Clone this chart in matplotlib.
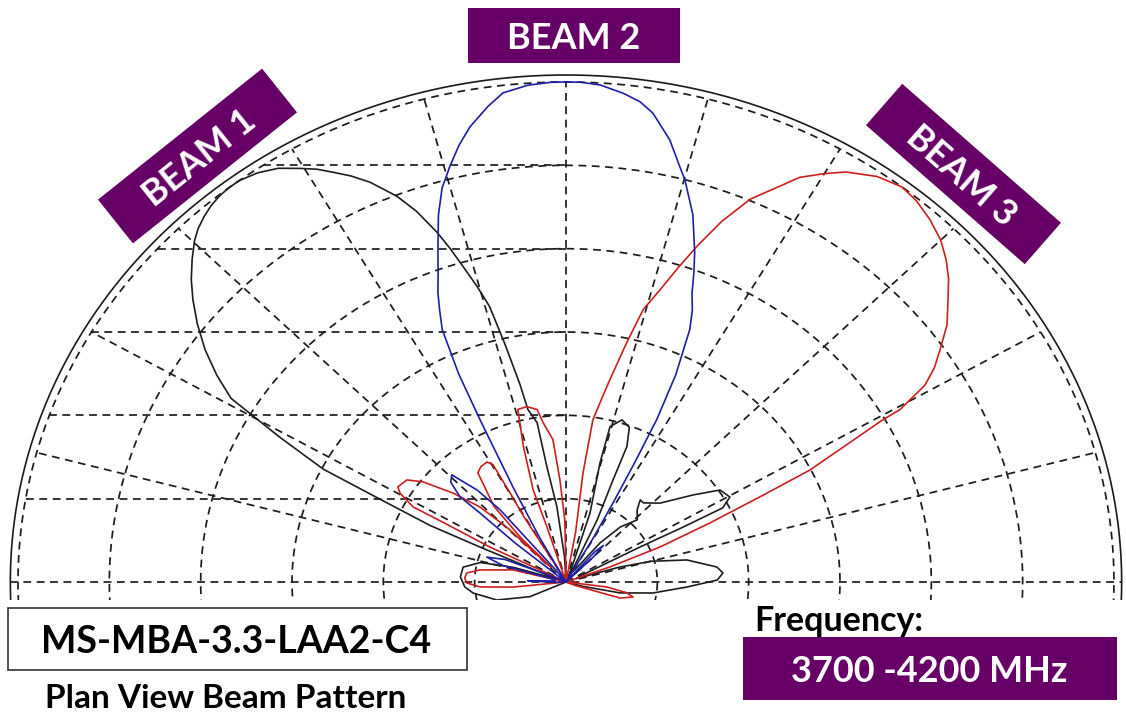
import numpy as np
import matplotlib
matplotlib.use("Agg")
import matplotlib.pyplot as plt
from matplotlib.patches import Rectangle

# ---- beam patterns: angle (deg), normalised amplitude (1 = outer ring)
beam1_deg = [-22, -16, -12.5, -7.9, -2.6, 0.8, 3.6, 6.2, 11.3, 15, 17, 20,
             25, 27.4, 27.2, 27.4, 29.6, 33.2, 36.9, 42.6, 48.3, 50.5, 48, 43.7, 48, 51.5, 56,
             63, 65.4, 67.2, 67.7, 69.5, 72.5, 75.5, 75.4, 72.4, 70,
             90, 93, 96.3, 98.6, 99.4, 101.4, 102, 103.2, 104.2, 105.4, 106.6, 107.6, 108.6,
             110.2, 111.8, 114.1, 115.8, 117.4, 118.8, 120.3, 122.4, 124.5, 126.6, 128,
             129.3, 130.7, 132.1, 133.5, 134.8, 136.6, 138.5, 140.3, 142.5, 144.8, 147, 149, 151,
             153, 154, 155.5, 156, 157, 159,
             161, 163, 166, 171, 177, 183, 187.4, 196, 204, 210]
beam1_amp = [0.0, 0.03, 0.101, 0.16, 0.221, 0.276, 0.287, 0.277, 0.225, 0.16, 0.10, 0.02,
             0.03, 0.152, 0.24, 0.322, 0.344, 0.336, 0.29, 0.233, 0.212, 0.213, 0.194, 0.18, 0.148, 0.10, 0.03,
             0.02, 0.137, 0.222, 0.293, 0.33, 0.34, 0.321, 0.246, 0.145, 0.03,
             0.0, 0.05, 0.151, 0.233, 0.323, 0.352, 0.404, 0.49, 0.568, 0.615, 0.659, 0.70, 0.738,
             0.79, 0.831, 0.876, 0.902, 0.923, 0.942, 0.958, 0.98, 0.993, 1.0, 1.0,
             0.998, 0.993, 0.985, 0.975, 0.962, 0.939, 0.913, 0.885, 0.848, 0.806, 0.76, 0.713, 0.597,
             0.497, 0.377, 0.272, 0.172, 0.06, 0.0,
             0.02, 0.10, 0.161, 0.19, 0.193, 0.185, 0.171, 0.131, 0.072, 0.0]

beam2_deg = [-20, 40, 44, 45, 47, 49, 51,
             59, 60.5, 61.5, 62.3, 63, 64.2, 65.9, 67, 68.3, 69.3, 70.4, 72.5, 74.9, 76, 77.9,
             80.4, 82, 83.9, 86.4, 88.5, 90, 91.5, 94, 96.7, 98.5, 100.9, 102.6, 104.3, 106,
             107.6, 109.5, 110.7, 112, 113, 114.1, 115.2, 115.8, 117, 118.5, 120,
             128, 129.8, 131.4, 134.2, 136.5, 138.6, 138.7, 140, 141,
             155, 158, 161, 164, 167, 174, 178, 182, 210]
beam2_amp = [0.0, 0.0, 0.0, 0.07, 0.10, 0.08, 0.0,
             0.0, 0.10, 0.18, 0.27, 0.365, 0.46, 0.553, 0.59, 0.622, 0.66, 0.70, 0.77, 0.833, 0.857, 0.904,
             0.951, 0.97, 0.983, 0.996, 1.0, 1.0, 1.0, 0.996, 0.985, 0.962, 0.927, 0.895, 0.858, 0.82,
             0.77, 0.70, 0.66, 0.624, 0.59, 0.553, 0.46, 0.361, 0.213, 0.10, 0.0,
             0.03, 0.188, 0.245, 0.299, 0.29, 0.258, 0.209, 0.12, 0.0,
             0.02, 0.12, 0.153, 0.12, 0.02, 0.02, 0.07, 0.02, 0.0]

beam3_deg = [-25, -22, -18, -13.8, -11, -7.6, -4,
             19, 20.6, 22.2, 24.2, 25.7, 26.7, 28.3, 29.3, 29.5, 31, 32.5, 34.2, 36.5, 39, 41,
             42.9, 45, 47.5, 50, 52.2, 55, 58.1, 60, 62.2, 64, 66.3, 68.5, 70.4, 72, 73.6, 75.5,
             77, 78.8, 80, 81.4, 81.9, 80, 84,
             90, 91, 93.1, 94.8, 97.5, 98.7, 101.5, 104.3, 106, 108, 107.5, 109,
             118, 120.5, 119.8, 119.6, 121, 124, 126.4, 131, 133, 132.5,
             134, 134.5, 136.3, 139.2, 142.5, 144.9, 148.2, 149.6, 151.7, 152, 153.3, 153, 155,
             160, 166, 171.3, 174.3, 177.5, 180.6, 183.6, 186, 190, 210]
beam3_amp = [0.0, 0.02, 0.104, 0.126, 0.113, 0.075, 0.0,
             0.0, 0.086, 0.185, 0.288, 0.393, 0.498, 0.588, 0.663, 0.70, 0.764, 0.797, 0.825, 0.865, 0.897, 0.925,
             0.947, 0.967, 0.983, 0.995, 1.0, 0.99, 0.966, 0.943, 0.915, 0.878, 0.836, 0.775, 0.713, 0.66, 0.61, 0.563,
             0.49, 0.413, 0.37, 0.328, 0.22, 0.10, 0.0,
             0.02, 0.124, 0.204, 0.286, 0.322, 0.349, 0.358, 0.356, 0.282, 0.194, 0.115, 0.0,
             0.02, 0.15, 0.205, 0.27, 0.28, 0.278, 0.271, 0.2, 0.12, 0.04,
             0.05, 0.15, 0.217, 0.272, 0.329, 0.355, 0.361, 0.351, 0.317, 0.25, 0.155, 0.06, 0.0,
             0.0, 0.10, 0.159, 0.182, 0.185, 0.181, 0.157, 0.097, 0.0, 0.0]

beam_colors = ['#1e1e1e', '#cc1f1f', '#1f1fa6']

ring_levels = [1/6, 2/6, 3/6, 4/6, 5/6, 1.0]
spoke_deg = list(range(15, 180, 15))

title_text = "MS-MBA-3.3-LAA2-C4"
subtitle_text = "Plan View Beam Pattern"
freq_label = "Frequency:"
freq_text = "3700 -4200 MHz"
beam_labels = ["BEAM 1", "BEAM 2", "BEAM 3"]

PURPLE = '#660066'
W, H = 1126, 715
CX, CY = 566, 582      # pole in pixels
RX, RY = 548, 500      # pixel size of the unit ring

fig = plt.figure(figsize=(W / 100, H / 100), dpi=100)
ax = fig.add_axes([0, (H - 600) / H, 1, 600 / H])
ax.set_xlim(-CX / RX, (W - CX) / RX)
ax.set_ylim(-(600 - CY) / RY, CY / RY)
ax.axis('off')

grid_kw = dict(color='#1c1c1c', lw=1.25, ls=(0, (4.5, 3.2)), zorder=1)
t = np.radians(np.linspace(-15, 195, 500))
for r in ring_levels:
    ax.plot(r * np.cos(t), r * np.sin(t), **grid_kw)
for a in spoke_deg:
    ax.plot([0, np.cos(np.radians(a))], [0, np.sin(np.radians(a))], **grid_kw)
ax.plot([-1.014, 1.014], [0, 0], **grid_kw)
for r in ring_levels[:-1]:
    ax.plot([-np.sqrt(1 - r ** 2), 0], [r, r], **grid_kw)
ax.plot(1.014 * np.cos(t), 1.014 * np.sin(t), color='#1a1a1a', lw=1.2, zorder=1)

for deg, amp, col in [(beam1_deg, beam1_amp, beam_colors[0]),
                      (beam3_deg, beam3_amp, beam_colors[1]),
                      (beam2_deg, beam2_amp, beam_colors[2])]:
    th = np.radians(deg)
    amp = np.asarray(amp)
    ax.plot(amp * np.cos(th), amp * np.sin(th), color=col, lw=1.2, zorder=2,
            solid_joinstyle='round')

# ---- annotation layer in pixel coordinates
ov = fig.add_axes([0, 0, 1, 1], zorder=3)
ov.set_xlim(0, W)
ov.set_ylim(0, H)
ov.axis('off')
ov.patch.set_alpha(0)

font = dict(family=['Lato', 'DejaVu Sans'], weight='bold')


def tag(cx, cy, w, h, ang, label, size):
    ov.add_patch(Rectangle((cx - w / 2, H - cy - h / 2), w, h, angle=ang,
                           rotation_point='center', facecolor=PURPLE, edgecolor='none'))
    ov.text(cx, H - cy, label, color='white', fontsize=size, rotation=ang,
            rotation_mode='anchor', ha='center', va='center_baseline', **font)


tag(197.5, 156, 210, 56, 38.6, beam_labels[0], 26)
tag(574, 35.5, 212, 55, 0, beam_labels[1], 26)
tag(963.5, 174, 211, 55, -41.2, beam_labels[2], 26)

ov.add_patch(Rectangle((8, H - 670), 459, 62, facecolor='white', edgecolor='#333333', lw=1.2))
ov.text(236, H - 639, title_text, color='black', fontsize=27, ha='center',
        va='center_baseline', **font)
ov.text(226, H - 696, subtitle_text, color='black', fontsize=24, ha='center',
        va='center_baseline', **font)
ov.text(754, H - 618, freq_label, color='black', fontsize=24.5, ha='left',
        va='center_baseline', **font)
ov.add_patch(Rectangle((743, H - 700), 374, 63, facecolor=PURPLE, edgecolor='none'))
ov.text(929, H - 668, freq_text, color='white', fontsize=26, ha='center',
        va='center_baseline', **font)

fig.savefig('out.png', dpi=100)
